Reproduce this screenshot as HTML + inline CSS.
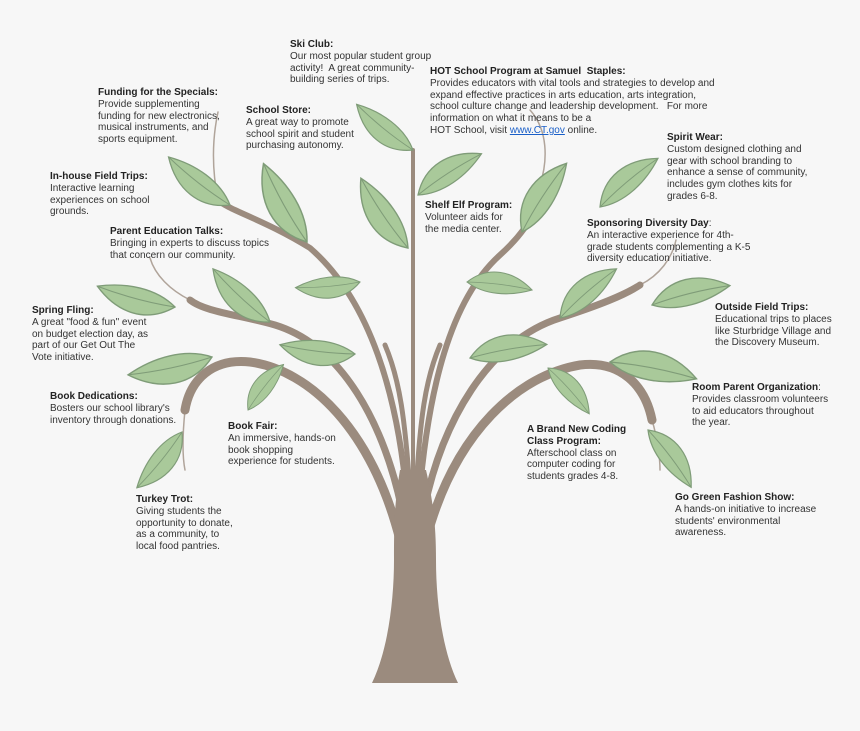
<!DOCTYPE html>
<html><head><meta charset="utf-8"><style>
html,body{margin:0;padding:0;background:#f7f7f7;}
#w{position:relative;width:860px;height:731px;overflow:hidden;background:#f7f7f7;font-family:"Liberation Sans",Arial,sans-serif;}
svg{position:absolute;left:0;top:0;}
.t{position:absolute;font-size:10px;line-height:11.8px;color:#333;white-space:nowrap;}
.t b{color:#222;}
.t a{color:#1a5fc8;text-decoration:underline;}
</style></head><body><div id="w">
<svg width="860" height="731" viewBox="0 0 860 731">
<defs>
<g id="lf"><path d="M0,0 C22,-22 52,-21 78,0 C52,11 22,13 0,0 Z" fill="#a9c99a" stroke="#7f9c78" stroke-width="1.3"/><path d="M0,0 Q38,-4 78,0" fill="none" stroke="#7f9c78" stroke-width="1"/></g>
</defs>
<g fill="none" stroke="#9b8b7e" stroke-linecap="round">
<path d="M218,200 C212,170 212,140 218,112" stroke-width="1.5" stroke="#b0a49a"/>
<path d="M190,300 C170,290 155,275 150,258" stroke-width="1.5" stroke="#b0a49a"/>
<path d="M185,410 C182,440 183,460 185,470" stroke-width="1.5" stroke="#b0a49a"/>
<path d="M540,185 C548,160 548,130 530,110" stroke-width="1.5" stroke="#b0a49a"/>
<path d="M640,285 C660,275 672,258 676,240" stroke-width="1.5" stroke="#b0a49a"/>
<path d="M652,420 C658,440 660,460 660,470" stroke-width="1.5" stroke="#b0a49a"/>
<path d="M400,540 C372,430 310,370 250,362 C212,358 190,380 185,410" stroke-width="9"/>
<path d="M404,520 C385,420 340,345 275,325 C240,315 205,312 190,300" stroke-width="7"/>
<path d="M407,500 C398,395 370,300 310,248 C265,220 228,210 218,200" stroke-width="6"/>
<path d="M410,490 C405,420 400,380 385,345" stroke-width="5"/>
<path d="M413,500 L413,150" stroke-width="4"/>
<path d="M416,490 C420,420 425,380 440,345" stroke-width="5"/>
<path d="M426,540 C455,430 520,375 580,365 C620,360 645,385 652,420" stroke-width="9"/>
<path d="M422,520 C440,420 490,340 560,318 C600,305 625,295 640,285" stroke-width="7"/>
<path d="M419,500 C428,390 450,300 500,255 C530,228 540,205 540,185" stroke-width="6"/>
</g>
<path d="M372,683 L458,683 C442,650 436,600 436,560 C436,530 434,505 426,470 L400,470 C394,505 394,530 394,560 C394,600 388,650 372,683 Z" fill="#9b8b7e"/>
<g>
<use href="#lf" transform="translate(413,150) rotate(219) scale(0.93)"/>
<use href="#lf" transform="translate(418,195) rotate(-33) scale(0.97)"/>
<use href="#lf" transform="translate(408,248) rotate(236) scale(1.08)"/>
<use href="#lf" transform="translate(307,242) rotate(241) scale(1.15)"/>
<use href="#lf" transform="translate(230,205) rotate(218) scale(1.0)"/>
<use href="#lf" transform="translate(270,322) rotate(223) scale(1.0)"/>
<use href="#lf" transform="translate(175,307) rotate(195) scale(1.03)"/>
<use href="#lf" transform="translate(360,282) rotate(175) scale(0.83)"/>
<use href="#lf" transform="translate(212,357) rotate(168) scale(1.1)"/>
<use href="#lf" transform="translate(355,354) rotate(187) scale(0.97)"/>
<use href="#lf" transform="translate(248,410) rotate(-52) scale(0.74)"/>
<use href="#lf" transform="translate(182,432) rotate(129) scale(0.92)"/>
<use href="#lf" transform="translate(522,232) rotate(-57) scale(1.05)"/>
<use href="#lf" transform="translate(600,207) rotate(-40) scale(0.97)"/>
<use href="#lf" transform="translate(467,282) rotate(7) scale(0.84)"/>
<use href="#lf" transform="translate(560,318) rotate(-41) scale(0.96)"/>
<use href="#lf" transform="translate(652,305) rotate(-14) scale(1.03)"/>
<use href="#lf" transform="translate(470,358) rotate(-10) scale(1.0)"/>
<use href="#lf" transform="translate(610,362) rotate(11) scale(1.13)"/>
<use href="#lf" transform="translate(548,368) rotate(48) scale(0.79)"/>
<use href="#lf" transform="translate(648,430) rotate(53) scale(0.92)"/>
</g>
</svg>
<div class="t" style="left:290px;top:39px"><b>Ski Club:</b><br>Our most popular student group<br>activity!&nbsp; A great community-<br>building series of trips.</div>
<div class="t" style="left:430px;top:66px"><b>HOT School Program at Samuel&nbsp; Staples:</b><br>Provides educators with vital tools and strategies to develop and<br>expand effective practices in arts education, arts integration,<br>school culture change and leadership development.&nbsp;&nbsp; For more<br>information on what it means to be a<br>HOT School, visit <a>www.CT.gov</a> online.</div>
<div class="t" style="left:98px;top:87px"><b>Funding for the Specials:</b><br>Provide supplementing<br>funding for new electronics,<br>musical instruments, and<br>sports equipment.</div>
<div class="t" style="left:246px;top:105px"><b>School Store:</b><br>A great way to promote<br>school spirit and student<br>purchasing autonomy.</div>
<div class="t" style="left:667px;top:132px"><b>Spirit Wear:</b><br>Custom designed clothing and<br>gear with school branding to<br>enhance a sense of community,<br>includes gym clothes kits for<br>grades 6-8.</div>
<div class="t" style="left:50px;top:171px"><b>In-house Field Trips:</b><br>Interactive learning<br>experiences on school<br>grounds.</div>
<div class="t" style="left:425px;top:200px"><b>Shelf Elf Program:</b><br>Volunteer aids for<br>the media center.</div>
<div class="t" style="left:110px;top:226px"><b>Parent Education Talks:</b><br>Bringing in experts to discuss topics<br>that concern our community.</div>
<div class="t" style="left:587px;top:218px"><b>Sponsoring Diversity Day</b>:<br>An interactive experience for 4th-<br>grade students complementing a K-5<br>diversity education initiative.</div>
<div class="t" style="left:32px;top:305px"><b>Spring Fling:</b><br>A great "food &amp; fun" event<br>on budget election day, as<br>part of our Get Out The<br>Vote initiative.</div>
<div class="t" style="left:715px;top:302px"><b>Outside Field Trips:</b><br>Educational trips to places<br>like Sturbridge Village and<br>the Discovery Museum.</div>
<div class="t" style="left:50px;top:391px"><b>Book Dedications:</b><br>Bosters our school library's<br>inventory through donations.</div>
<div class="t" style="left:692px;top:382px"><b>Room Parent Organization</b>:<br>Provides classroom volunteers<br>to aid educators throughout<br>the year.</div>
<div class="t" style="left:228px;top:421px"><b>Book Fair:</b><br>An immersive, hands-on<br>book shopping<br>experience for students.</div>
<div class="t" style="left:527px;top:424px"><b>A Brand New Coding<br>Class Program:</b><br>Afterschool class on<br>computer coding for<br>students grades 4-8.</div>
<div class="t" style="left:136px;top:494px"><b>Turkey Trot:</b><br>Giving students the<br>opportunity to donate,<br>as a community, to<br>local food pantries.</div>
<div class="t" style="left:675px;top:492px"><b>Go Green Fashion Show:</b><br>A hands-on initiative to increase<br>students' environmental<br>awareness.</div>
</div></body></html>
